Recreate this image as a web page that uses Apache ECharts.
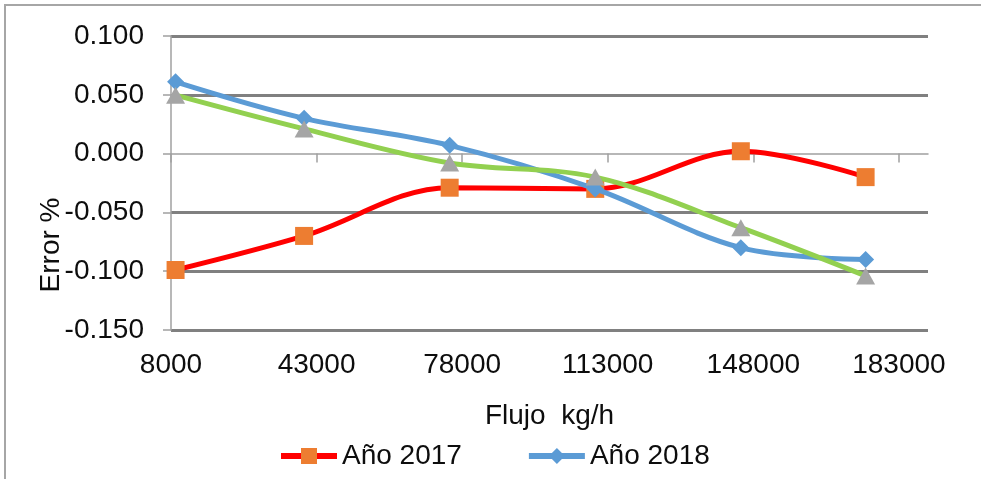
<!DOCTYPE html>
<html>
<head>
<meta charset="utf-8">
<script src="https://cdn.jsdelivr.net/npm/echarts@6/dist/echarts.min.js"></script>
<style>
html,body{margin:0;padding:0;background:#fff;}
#chart{width:981px;height:479px;}
</style>
</head>
<body>
<div id="chart"></div>
<script>
// ---- data ----
const flujo = [9100, 40000, 75000, 110000, 145000, 175000];
const ano2017 = [-0.099, -0.070, -0.029, -0.030, 0.002, -0.020];
const ano2018 = [0.061, 0.030, 0.007, -0.030, -0.080, -0.090];
const serie3 = [0.0497, 0.021, -0.008, -0.020, -0.063, -0.104];
const xTicks = [8000, 43000, 78000, 113000, 148000, 183000];
const yTicks = [-0.15, -0.10, -0.05, 0.00, 0.05, 0.10];
const seriesNames = ['Año 2017', 'Año 2018', 'Serie 3'];

function pairs(xs, ys) { return xs.map((x, i) => [x, ys[i]]); }

const FONT = 'Liberation Sans, Arial, sans-serif';
const chart = echarts.init(document.getElementById('chart'), null, {renderer: 'canvas'});

const gridColors = yTicks.map(v => Math.abs(v) < 1e-9 ? 'rgba(0,0,0,0)' : '#808080');

chart.setOption({
  animation: false,
  backgroundColor: '#fff',
  graphic: [{
    type: 'polyline',
    shape: { points: [[5, 479], [5, 5], [981, 5]] },
    style: { stroke: '#A6A6A6', lineWidth: 2, fill: null },
    silent: true
  }],
  grid: { left: 171, right: 53, top: 36, bottom: 149, containLabel: false },
  legend: {
    data: [seriesNames[0], seriesNames[1]],
    left: 278,
    top: 442,
    padding: 0,
    itemWidth: 56,
    itemHeight: 20,
    itemGap: 64,
    lineStyle: { width: 6 },
    textStyle: { fontFamily: FONT, fontSize: 28, color: '#0d0d0d' }
  },
  xAxis: [{
    type: 'value',
    min: 8000,
    max: 190000,
    interval: 35000,
    axisLine: { show: true, onZero: true, lineStyle: { color: '#A0A0A0', width: 1.5 } },
    axisTick: { show: true, inside: false, length: 9, customValues: xTicks, lineStyle: { color: '#A0A0A0', width: 1.5 } },
    axisLabel: { show: false },
    splitLine: { show: false }
  }, {
    type: 'value',
    position: 'bottom',
    min: 8000,
    max: 190000,
    interval: 35000,
    axisLine: { show: false, onZero: false },
    axisTick: { show: false },
    splitLine: { show: false },
    axisLabel: {
      show: true,
      customValues: xTicks,
      margin: 21,
      fontFamily: FONT, fontSize: 28, color: '#0d0d0d',
      formatter: v => String(v)
    },
    name: 'Flujo  kg/h',
    nameLocation: 'middle',
    nameGap: 72,
    nameMoveOverlap: false,
    nameTextStyle: { fontFamily: FONT, fontSize: 28, color: '#0d0d0d' }
  }],
  yAxis: {
    type: 'value',
    min: -0.15,
    max: 0.10,
    interval: 0.05,
    axisLine: { show: true, onZero: false, lineStyle: { color: '#A0A0A0', width: 1.5 } },
    axisTick: { show: true, inside: false, length: 8, lineStyle: { color: '#A0A0A0', width: 1.5 } },
    axisLabel: {
      margin: 27,
      fontFamily: FONT, fontSize: 28, color: '#0d0d0d',
      formatter: v => v.toFixed(3)
    },
    splitLine: { show: true, lineStyle: { color: gridColors, width: 3 } },
    name: 'Error %',
    nameLocation: 'middle',
    nameGap: 106,
    nameMoveOverlap: false,
    nameTextStyle: { fontFamily: FONT, fontSize: 28, color: '#0d0d0d', padding: [0, 124, 0, 0] }
  },
  series: [{
    name: seriesNames[0],
    type: 'line',
    xAxisIndex: 0,
    data: pairs(flujo, ano2017),
    smooth: 0.35,
    symbol: 'rect',
    symbolSize: 18,
    lineStyle: { color: '#FF0000', width: 5 },
    itemStyle: { color: '#ED7D31' },
    z: 2
  }, {
    name: seriesNames[1],
    type: 'line',
    xAxisIndex: 0,
    data: pairs(flujo, ano2018),
    smooth: 0.35,
    symbol: 'diamond',
    symbolSize: 17,
    lineStyle: { color: '#5B9BD5', width: 5 },
    itemStyle: { color: '#5B9BD5' },
    z: 3
  }, {
    name: seriesNames[2],
    type: 'line',
    xAxisIndex: 0,
    data: pairs(flujo, serie3),
    smooth: 0.35,
    symbol: 'triangle',
    symbolSize: [19, 17],
    lineStyle: { color: '#92D050', width: 5 },
    itemStyle: { color: '#A5A5A5' },
    z: 4
  }]
});
</script>
</body>
</html>
